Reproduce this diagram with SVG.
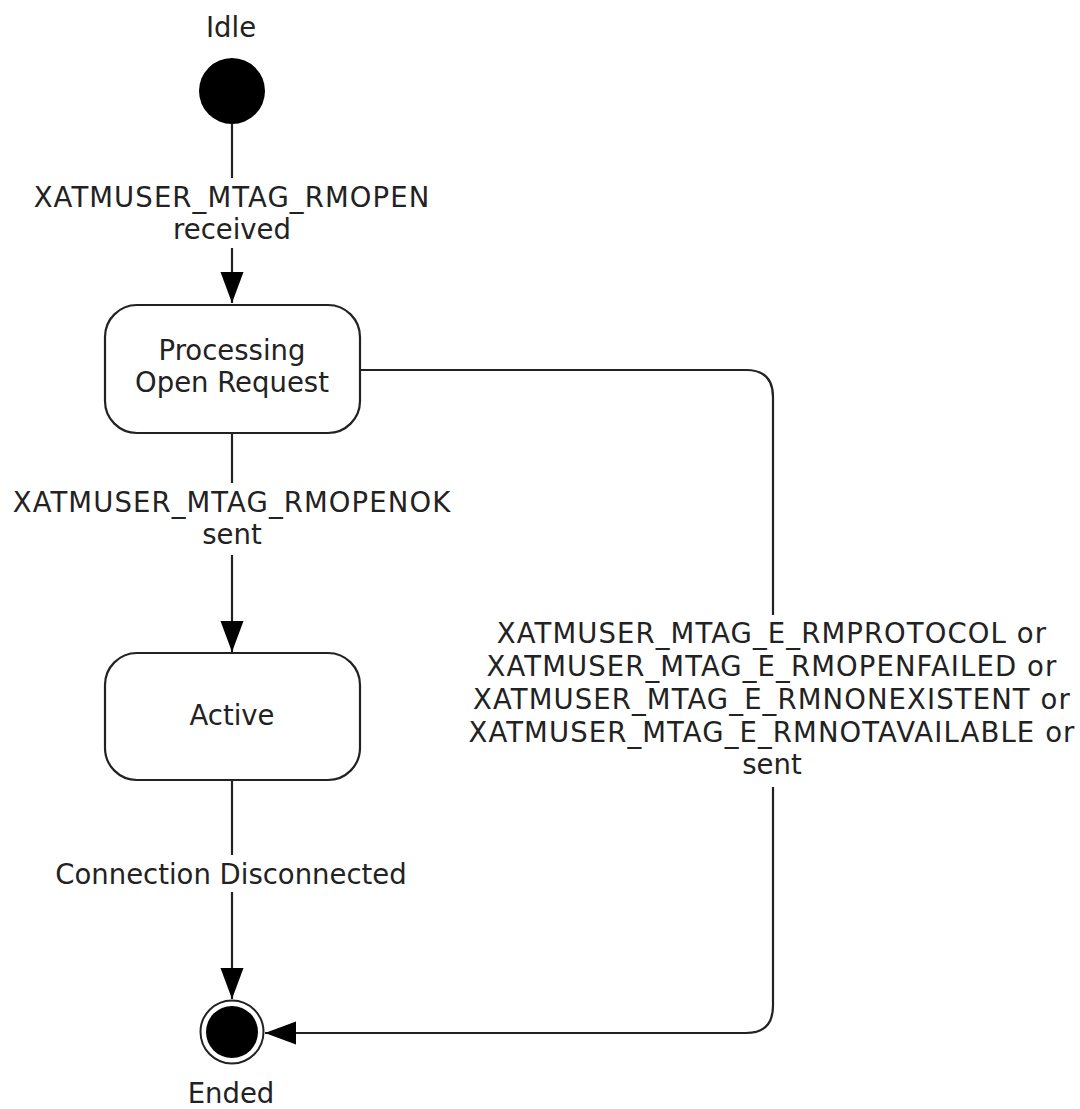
<svg xmlns="http://www.w3.org/2000/svg" width="1080" height="1109" viewBox="0 0 1080 1109">
<style>
  .lbl { font-family: "DejaVu Sans", Verdana, sans-serif; font-size: 27.5px; fill: #222; text-anchor: middle; }
  .caps { letter-spacing: 1.1px; }
  .state { fill: #fff; stroke: #222; stroke-width: 2.2; }
  .line { fill: none; stroke: #222; stroke-width: 2.2; }
</style>
<defs>
  <marker id="arrow" markerUnits="userSpaceOnUse" markerWidth="32" markerHeight="24" refX="31" refY="11.5" orient="auto">
    <path d="M0,0 L31,11.5 L0,23 Z" fill="#000"/>
  </marker>
</defs>
<rect width="1080" height="1109" fill="#fff"/>

<g id="connectors">
  <line class="line" x1="232" y1="124" x2="232" y2="178"/>
  <line class="line" x1="232" y1="248" x2="232" y2="303" marker-end="url(#arrow)"/>
  <line class="line" x1="232" y1="433" x2="232" y2="483"/>
  <line class="line" x1="232" y1="555" x2="232" y2="652" marker-end="url(#arrow)"/>
  <line class="line" x1="232" y1="780" x2="232" y2="855"/>
  <line class="line" x1="232" y1="892" x2="232" y2="999" marker-end="url(#arrow)"/>
  <path class="line" d="M360,370 L746,370 Q773,370 773,397 L773,615"/>
  <path class="line" d="M773,787 L773,1006 Q773,1033 746,1033 L265,1033" marker-end="url(#arrow)"/>
  <text class="lbl caps" x="232" y="207">XATMUSER_MTAG_RMOPEN</text>
  <text class="lbl" x="232" y="239">received</text>
  <text class="lbl caps" x="232" y="512">XATMUSER_MTAG_RMOPENOK</text>
  <text class="lbl" x="232" y="544">sent</text>
  <text class="lbl" x="231" y="884">Connection Disconnected</text>
  <text class="lbl caps" x="772" y="643">XATMUSER_MTAG_E_RMPROTOCOL or</text>
  <text class="lbl caps" x="772" y="676">XATMUSER_MTAG_E_RMOPENFAILED or</text>
  <text class="lbl caps" x="772" y="709">XATMUSER_MTAG_E_RMNONEXISTENT or</text>
  <text class="lbl caps" x="772" y="742">XATMUSER_MTAG_E_RMNOTAVAILABLE or</text>
  <text class="lbl" x="772" y="774">sent</text>
</g>

<g id="idle">
  <circle cx="232" cy="91" r="33" fill="#000"/>
  <text class="lbl" x="231" y="37">Idle</text>
</g>

<g id="processing">
  <rect class="state" x="105" y="305" width="255" height="128" rx="32" ry="32"/>
  <text class="lbl" x="232" y="360">Processing</text>
  <text class="lbl" x="232" y="392">Open Request</text>
</g>

<g id="active">
  <rect class="state" x="105" y="653" width="255" height="127" rx="32" ry="32"/>
  <text class="lbl" x="232" y="725">Active</text>
</g>

<g id="ended">
  <circle cx="232" cy="1032" r="31.5" fill="#fff" stroke="#222" stroke-width="2"/>
  <circle cx="232" cy="1032" r="26" fill="#000"/>
  <text class="lbl" x="231" y="1103">Ended</text>
</g>
</svg>
